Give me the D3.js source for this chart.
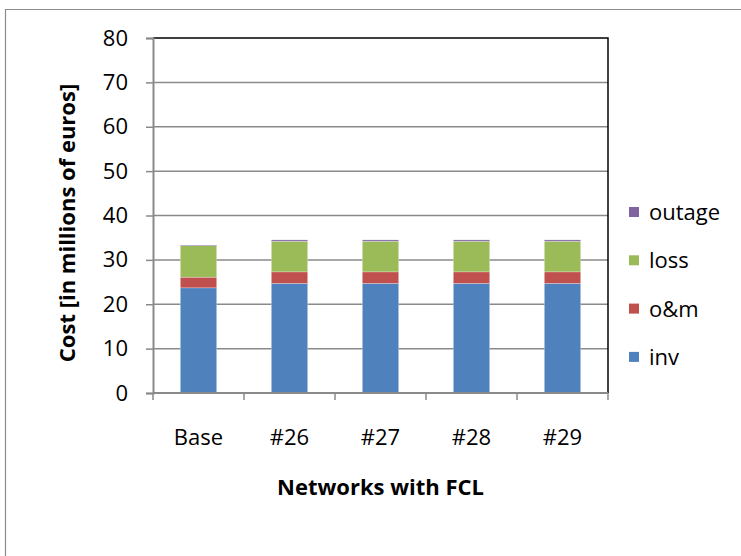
<!DOCTYPE html>
<html>
<head>
<meta charset="utf-8">
<script src="https://cdn.jsdelivr.net/npm/d3@7"></script>
<style>
  html, body { margin: 0; padding: 0; background: #fff; }
  svg { display: block; }
  text { font-family: "Open Sans", Lato, sans-serif; fill: #000; }
</style>
</head>
<body>
<svg id="chart" width="741" height="556"></svg>
<script>
// Cost breakdown per network (millions of euros)
const categories = ["Base", "#26", "#27", "#28", "#29"];
const inv    = [23.7, 24.7, 24.7, 24.7, 24.7];
const om     = [2.4, 2.6, 2.6, 2.6, 2.6];
const loss   = [7.1, 6.9, 6.9, 6.9, 6.9];
const outage = [0.15, 0.3, 0.3, 0.3, 0.3];
const seriesNames = ["inv", "o&m", "loss", "outage"];
const seriesColors = ["#4F81BD", "#C0504D", "#9BBB59", "#8064A2"];
const yTicks = [0, 10, 20, 30, 40, 50, 60, 70, 80];

const rows = categories.map((c, i) => ({
  cat: c, "inv": inv[i], "o&m": om[i], "loss": loss[i], "outage": outage[i]
}));

const FONT = "22px";
const svg = d3.select("#chart");

// chart frame
svg.append("path")
  .attr("d", "M5.5,556 V9.5 H741")
  .attr("fill", "none").attr("stroke", "#8c8c8c").attr("stroke-width", 1.2);

const plot = { left: 153, right: 608, top: 38, bottom: 393 };

const x = d3.scaleBand().domain(categories).range([plot.left, plot.right]).paddingInner(0.6).paddingOuter(0.3);
const xOuter = d3.scaleBand().domain(categories).range([plot.left, plot.right]);
const y = d3.scaleLinear().domain([0, 80]).range([plot.bottom, plot.top]);

// gridlines
svg.append("g").selectAll("line").data(yTicks.filter(t => t > 0 && t < 80)).join("line")
  .attr("x1", plot.left).attr("x2", plot.right)
  .attr("y1", d => y(d)).attr("y2", d => y(d))
  .attr("stroke", "#8a8a8a").attr("stroke-width", 1.5);

// plot border (top and right)
svg.append("path")
  .attr("d", `M${plot.left},${y(80)} H${plot.right} V${plot.bottom}`)
  .attr("fill", "none").attr("stroke", "#000").attr("stroke-width", 1.5);

// stacked bars
const stack = d3.stack().keys(seriesNames)(rows);
svg.append("g").selectAll("g").data(stack).join("g")
  .attr("fill", (d, i) => seriesColors[i])
  .selectAll("rect").data(d => d).join("rect")
  .attr("x", d => x(d.data.cat))
  .attr("width", x.bandwidth())
  .attr("y", d => y(d[1]))
  .attr("height", d => y(d[0]) - y(d[1]))
  .attr("stroke", "#fff").attr("stroke-opacity", 0.45).attr("stroke-width", 0.6);

// y axis
const yAxis = svg.append("g").attr("transform", `translate(${plot.left},0)`)
  .call(d3.axisLeft(y).tickValues(yTicks).tickSize(7).tickPadding(18));
yAxis.select(".domain").attr("stroke", "#8a8a8a").attr("stroke-width", 2);
yAxis.selectAll(".tick line").attr("stroke", "#8a8a8a").attr("stroke-width", 1.5);
yAxis.selectAll(".tick text").style("font-size", FONT).style("font-family", "'Open Sans', sans-serif");

// x axis
const xAxisG = svg.append("g").attr("transform", `translate(0,${plot.bottom})`);
xAxisG.append("line").attr("x1", plot.left).attr("x2", plot.right)
  .attr("stroke", "#8a8a8a").attr("stroke-width", 2);
const bounds = categories.map(c => xOuter(c)).concat([plot.right]);
xAxisG.selectAll("line.tk").data(bounds).join("line").attr("class", "tk")
  .attr("x1", d => d).attr("x2", d => d).attr("y1", 0).attr("y2", 7)
  .attr("stroke", "#8a8a8a").attr("stroke-width", 1.5);
xAxisG.selectAll("text").data(categories).join("text")
  .attr("x", d => xOuter(d) + xOuter.bandwidth() / 2)
  .attr("y", 52)
  .attr("text-anchor", "middle")
  .style("font-size", FONT)
  .text(d => d);

// axis titles
svg.append("text")
  .attr("x", (plot.left + plot.right) / 2).attr("y", 495)
  .attr("text-anchor", "middle")
  .style("font-size", FONT).style("font-weight", "bold")
  .text("Networks with FCL");
svg.append("text")
  .attr("transform", `translate(75,223) rotate(-90)`)
  .attr("text-anchor", "middle")
  .style("font-size", FONT).style("font-weight", "bold")
  .text("Cost [in millions of euros]");

// legend (top entry is the last series)
const legendItems = seriesNames.map((n, i) => ({ name: n, color: seriesColors[i] })).reverse();
const legend = svg.append("g").attr("transform", "translate(629,207)");
const li = legend.selectAll("g").data(legendItems).join("g")
  .attr("transform", (d, i) => `translate(0,${i * 48.3})`);
li.append("rect").attr("width", 10).attr("height", 10).attr("fill", d => d.color);
li.append("text").attr("x", 20).attr("y", 13).style("font-size", FONT).text(d => d.name);
</script>
</body>
</html>
